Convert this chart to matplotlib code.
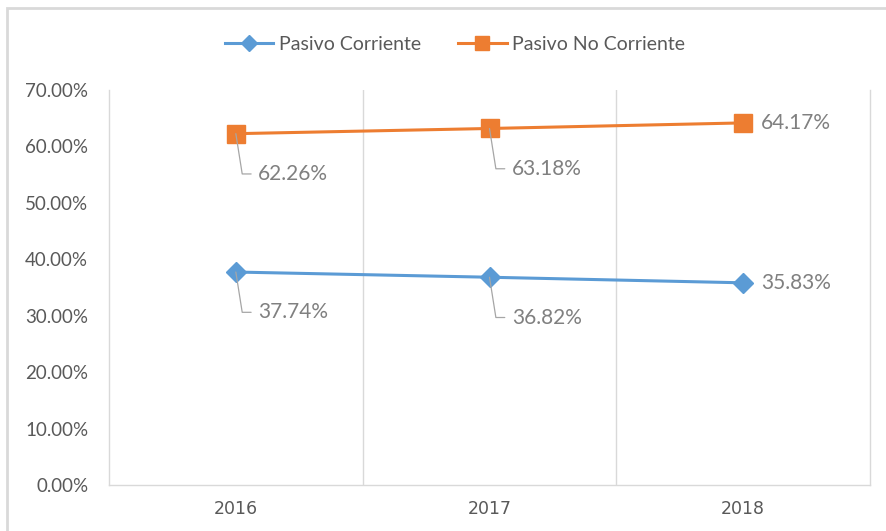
import matplotlib
matplotlib.use("Agg")
import matplotlib.pyplot as plt
from matplotlib.patches import Rectangle

years = ["2016", "2017", "2018"]
pasivo_corriente = [0.3774, 0.3682, 0.3583]
pasivo_no_corriente = [0.6226, 0.6318, 0.6417]
series_names = ["Pasivo Corriente", "Pasivo No Corriente"]
y_ticks = [0.0, 0.1, 0.2, 0.3, 0.4, 0.5, 0.6, 0.7]

plt.rcParams['font.family'] = ['Lato', 'DejaVu Sans']

BLUE = "#5B9BD5"
ORANGE = "#ED7D31"
GRID = "#D9D9D9"
AXTXT = "#595959"
LBLTXT = "#808080"

fig = plt.figure(figsize=(8.86, 5.31), dpi=100)
fig.patch.set_facecolor("white")
ax = fig.add_axes([109/886, 46/531, (870-109)/886, (485-90)/531])

x = list(range(len(years)))
ax.plot(x, pasivo_corriente, color=BLUE, lw=2.2, marker="D", ms=10,
        markeredgecolor=BLUE, label=series_names[0], zorder=3)
ax.plot(x, pasivo_no_corriente, color=ORANGE, lw=2.2, marker="s", ms=12.5,
        markeredgecolor=ORANGE, label=series_names[1], zorder=3)

ax.set_xlim(-0.5, len(years) - 0.5)
ax.set_ylim(0, 0.70)
ax.set_yticks(y_ticks)
ax.set_yticklabels([f"{v*100:.2f}%" for v in y_ticks])
ax.set_xticks(x)
ax.set_xticklabels(years)
ax.tick_params(axis="y", length=0, pad=15, labelsize=13.5, labelcolor=AXTXT)
ax.tick_params(axis="x", length=0, pad=11, labelsize=13.5, labelcolor=AXTXT)
for lbl in ax.get_xticklabels():
    lbl.set_fontfamily(['DejaVu Sans'])
    lbl.set_fontsize(12.5)

for s in ["left", "bottom", "right"]:
    ax.spines[s].set_color(GRID)
    ax.spines[s].set_linewidth(1)
ax.spines["top"].set_visible(False)
for xv in [0.5, 1.5]:
    ax.axvline(xv, color=GRID, lw=1, zorder=1)

def label(xi, yi, txt, side):
    if side == "right":
        ax.annotate(txt, (xi, yi), xytext=(13, 0), textcoords="offset points",
                    ha="left", va="center", fontsize=15, color=LBLTXT)
    else:
        ax.annotate(txt, (xi, yi), xytext=(16, -29), textcoords="offset points",
                    ha="left", va="center", fontsize=15, color=LBLTXT,
                    arrowprops=dict(arrowstyle="-", color="#A6A6A6", lw=0.9,
                                    shrinkA=3, shrinkB=0,
                                    connectionstyle="angle,angleA=0,angleB=99,rad=0",
                                    relpos=(0, 0.5)))

for i in range(len(years)):
    side = "right" if i == len(years) - 1 else "below"
    label(i, pasivo_no_corriente[i], f"{pasivo_no_corriente[i]*100:.2f}%", side)
    label(i, pasivo_corriente[i], f"{pasivo_corriente[i]*100:.2f}%", side)

leg = fig.legend(loc="center", bbox_to_anchor=(455/886, 1 - 44/531), ncol=2,
                 frameon=False, fontsize=14, handlelength=2.5, markerscale=0.8,
                 columnspacing=1.9, handletextpad=0.3)
for t in leg.get_texts():
    t.set_color(AXTXT)

fig.patches.append(Rectangle((7/886, -0.1), 1.2, 1.1 - 8/531, transform=fig.transFigure,
                             fill=False, edgecolor=GRID, lw=2, zorder=0))

fig.savefig("out.png", dpi=100)
